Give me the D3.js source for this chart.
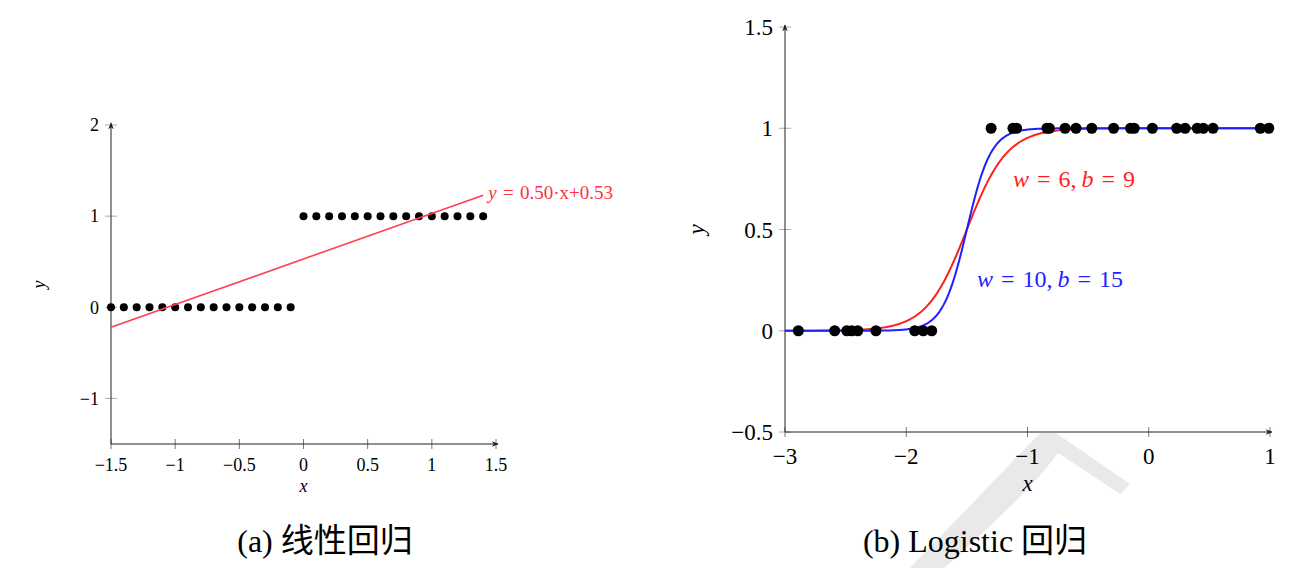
<!DOCTYPE html>
<html>
<head>
<meta charset="utf-8">
<script src="https://cdn.jsdelivr.net/npm/d3@7"></script>
<style>
  body { margin: 0; background: white; }
  text { font-family: "Liberation Serif", "DejaVu Serif", serif; }
  .cjk { font-family: "Noto Sans CJK SC", sans-serif; }
</style>
</head>
<body>
<div id="chart"></div>
<script>
// (a) linear regression data
const linX0 = [-1.5, -1.4, -1.3, -1.2, -1.1, -1.0, -0.9, -0.8, -0.7, -0.6, -0.5, -0.4, -0.3, -0.2, -0.1]
const linX1 = [0.0, 0.1, 0.2, 0.3, 0.4, 0.5, 0.6, 0.7, 0.8, 0.9, 1.0, 1.1, 1.2, 1.3, 1.4]
const fitSlope = 0.50
const fitIntercept = 0.53
const linXTicks = [-1.5, -1, -0.5, 0, 0.5, 1, 1.5]
const linYTicks = [-1, 0, 1, 2]

// (b) logistic regression data
const logX0 = [-2.89, -2.59, -2.49, -2.45, -2.40, -2.25, -1.93, -1.86, -1.79]
const logX1 = [-1.30, -1.12, -1.09, -0.84, -0.82, -0.69, -0.60, -0.47, -0.29, -0.15, -0.12, 0.03, 0.23, 0.30, 0.40, 0.45, 0.53, 0.92, 0.99]
const curves = [
    {w: 6, b: 9, color: "#ff1f1f", label: [["w", true], ["\u2004=\u20046,\u2009", false], ["b", true], ["\u2004=\u20049", false]]},
    {w: 10, b: 15, color: "#1f1fff", label: [["w", true], ["\u2004=\u200410,\u2009", false], ["b", true], ["\u2004=\u200415", false]]}
]
const logXTicks = [-3, -2, -1, 0, 1]
const logYTicks = [-0.5, 0, 0.5, 1, 1.5]

const fmt = d => d3.format("")(d).replace("-", "\u2212")

const svg = d3.select("#chart").append("svg")
    .attr("width", 1306)
    .attr("height", 568)

// faint watermark behind
svg.append("path")
    .attr("d", "M1040,433 L1056,433 L1130,484 L1120,494 L1058,453 Q1030,492 944,568 L910,568 Z")
    .attr("fill", "#e9e9e9")

const defs = svg.append("defs")
defs.append("marker")
    .attr("id", "arrow")
    .attr("viewBox", "0 0 10 10")
    .attr("refX", 9).attr("refY", 5)
    .attr("markerWidth", 7).attr("markerHeight", 7)
    .attr("orient", "auto")
  .append("path")
    .attr("d", "M0,1 L10,5 L0,9 L3,5 Z")
    .attr("fill", "#222")

function axes(g, x, y, xTicks, yTicks, fs, xLabY, tickLabY, yLabX) {
    const [x0, x1] = x.range()
    const [y0, y1] = y.range()
    // y ticks
    g.selectAll(".yt").data(yTicks).join("line")
        .attr("x1", x0 - 6).attr("x2", x0 + 6)
        .attr("y1", d => y(d)).attr("y2", d => y(d))
        .attr("stroke", "#aaa").attr("stroke-width", 1)
    g.selectAll(".ytl").data(yTicks).join("text")
        .attr("x", x0 - 12).attr("y", d => y(d))
        .attr("dy", "0.35em")
        .attr("text-anchor", "end")
        .style("font-size", fs + "px")
        .text(fmt)
    // x ticks
    g.selectAll(".xt").data(xTicks).join("line")
        .attr("x1", d => x(d)).attr("x2", d => x(d))
        .attr("y1", y0 - 5).attr("y2", y0 + 5)
        .attr("stroke", "#555").attr("stroke-width", 0.8)
    g.selectAll(".xtl").data(xTicks).join("text")
        .attr("x", d => x(d)).attr("y", tickLabY)
        .attr("text-anchor", "middle")
        .style("font-size", fs + "px")
        .text(fmt)
    // axis lines with arrows
    g.append("line")
        .attr("x1", x0).attr("x2", x1 + 2)
        .attr("y1", y0).attr("y2", y0)
        .attr("stroke", "#222").attr("stroke-width", 1)
        .attr("marker-end", "url(#arrow)")
    g.append("line")
        .attr("x1", x0).attr("x2", x0)
        .attr("y1", y0).attr("y2", y1 - 2)
        .attr("stroke", "#222").attr("stroke-width", 1)
        .attr("marker-end", "url(#arrow)")
    // axis titles
    g.append("text")
        .attr("x", (x0 + x1) / 2).attr("y", xLabY)
        .attr("text-anchor", "middle")
        .style("font-size", fs + "px").style("font-style", "italic")
        .text("x")
    g.append("text")
        .attr("transform", `translate(${yLabX},${(y0 + y1) / 2}) rotate(-90)`)
        .attr("text-anchor", "middle")
        .attr("dy", "0.3em")
        .style("font-size", fs + "px").style("font-style", "italic")
        .text("y")
}

// ---------- (a) linear ----------
const xL = d3.scaleLinear().domain([-1.5, 1.5]).range([111, 496])
const yL = d3.scaleLinear().domain([-1.5, 2]).range([444, 125])
const gL = svg.append("g")
axes(gL, xL, yL, linXTicks, linYTicks, 18, 492, 471, 40)

gL.selectAll(".p0").data(linX0).join("circle")
    .attr("cx", d => xL(d)).attr("cy", yL(0)).attr("r", 4).attr("fill", "black")
gL.selectAll(".p1").data(linX1).join("circle")
    .attr("cx", d => xL(d)).attr("cy", yL(1)).attr("r", 4).attr("fill", "black")

// fitted line over the data range
const fitX = d3.extent(linX0.concat(linX1))
gL.append("line")
    .attr("x1", xL(fitX[0])).attr("y1", yL(fitSlope * fitX[0] + fitIntercept))
    .attr("x2", xL(fitX[1])).attr("y2", yL(fitSlope * fitX[1] + fitIntercept))
    .attr("stroke", "#ff4050").attr("stroke-width", 1.6)

const fitLab = gL.append("text")
    .attr("x", xL(fitX[1]) + 5).attr("y", yL(fitSlope * fitX[1] + fitIntercept) + 4)
    .attr("fill", "#ff3045")
    .style("font-size", "19px")
fitLab.append("tspan").style("font-style", "italic").text("y")
fitLab.append("tspan").text(`\u2004=\u2004${fitSlope.toFixed(2)}\u00b7x+${fitIntercept.toFixed(2)}`)

// ---------- (b) logistic ----------
const xR = d3.scaleLinear().domain([-3, 1]).range([785, 1270])
const yR = d3.scaleLinear().domain([-0.5, 1.5]).range([432, 27])
const gR = svg.append("g")
axes(gR, xR, yR, logXTicks, logYTicks, 23, 491, 464, 697)

const xs = d3.range(-3, 1.0001, 0.01)
const line = d3.line().x(d => xR(d[0])).y(d => yR(d[1]))
curves.forEach(c => {
    gR.append("path")
        .datum(xs.map(x => [x, 1 / (1 + Math.exp(-(c.w * x + c.b)))]))
        .attr("fill", "none")
        .attr("stroke", c.color)
        .attr("stroke-width", 2)
        .attr("d", line)
})

gR.selectAll(".q0").data(logX0).join("circle")
    .attr("cx", d => xR(d)).attr("cy", yR(0)).attr("r", 5.5).attr("fill", "black")
gR.selectAll(".q1").data(logX1).join("circle")
    .attr("cx", d => xR(d)).attr("cy", yR(1)).attr("r", 5.5).attr("fill", "black")

// curve labels
const labPos = [[1013, 187], [977, 287]]
curves.forEach((c, i) => {
    const t = gR.append("text")
        .attr("x", labPos[i][0]).attr("y", labPos[i][1])
        .attr("fill", c.color)
        .style("font-size", "24px")
    c.label.forEach(([s, it]) => t.append("tspan").style("font-style", it ? "italic" : "normal").text(s))
})

// ---------- captions ----------
const capA = svg.append("text").attr("x", 325).attr("y", 552).attr("text-anchor", "middle").style("font-size", "32px")
capA.append("tspan").text("(a) ")
capA.append("tspan").attr("class", "cjk").style("font-size", "33px").text("线性回归")
const capB = svg.append("text").attr("x", 975).attr("y", 552).attr("text-anchor", "middle").style("font-size", "32px")
capB.append("tspan").text("(b) Logistic ")
capB.append("tspan").attr("class", "cjk").style("font-size", "33px").text("回归")
</script>
</body>
</html>
